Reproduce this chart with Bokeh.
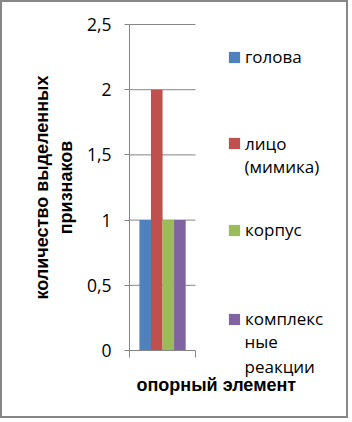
from bokeh.plotting import figure
from bokeh.models import (Range1d, FixedTicker, Legend, LegendItem, Label,
                          ColumnDataSource, LinearAxis)
from bokeh.transform import dodge
from bokeh.embed import file_html
from bokeh.resources import INLINE

# ---- data ----
categories = ["опорный элемент"]
golova = [1]
litso = [2]
korpus = [1]
kompleks = [1]
series_lines = [["голова"], ["лицо", "(мимика)"], ["корпус"], ["комплекс", "ные", "реакции"]]
y_ticks = [0, 0.5, 1, 1.5, 2, 2.5]
y_tick_labels = ["0", "0,5", "1", "1,5", "2", "2,5"]
y_title = "количество выделенных\nпризнаков"
x_title = "опорный элемент"

# ---- style / layout ----
colors = ["#4F81BD", "#C0504D", "#9BBB59", "#8064A2"]
grey = "#868686"
TICK_FONT = "Open Sans"
BOLD_FONT = "Liberation Sans"
W, H = 348, 418                       # canvas (plus 2px css border each side)
PL, PR, PT, PB = 127, 193, 22, 348    # plot area in canvas px
y_max = y_ticks[-1]
n = len(categories)
xpp = n / (PR - PL)
ypp = y_max / (PB - PT)
LBL_SHIFT = 6

def fx(page_x):
    return page_x - 2

def fy(page_y):
    return H - (page_y - 2)

source = ColumnDataSource(dict(
    x=[i + 0.5 for i in range(n)],
    golova=golova, litso=litso, korpus=korpus, kompleks=kompleks,
))

p = figure(width=W, height=H, output_backend="svg", toolbar_location=None,
           x_range=Range1d(-PL * xpp, n + (W - PR) * xpp),
           y_range=Range1d(-(H - PB) * ypp, y_max + PT * ypp),
           x_axis_location=None, y_axis_location=None,
           min_border_left=0, min_border_right=0, min_border_top=0,
           min_border_bottom=0)
p.styles = {"border": "2px solid #878787"}
p.outline_line_color = None
p.background_fill_color = "white"
p.xgrid.grid_line_color = None
p.ygrid.grid_line_color = None

# gridlines across the plot area only
grid_src = ColumnDataSource(dict(y=y_ticks[1:], x0=[0] * (len(y_ticks) - 1),
                                 x1=[n] * (len(y_ticks) - 1)))
p.segment(x0="x0", x1="x1", y0="y", y1="y", source=grid_src,
          line_color=grey, line_width=1)

offsets = [-0.262, -0.087, 0.088, 0.263]
bar_w = 0.176
fields = ["golova", "litso", "korpus", "kompleks"]
renderers = []
for f, off, c in zip(fields, offsets, colors):
    r = p.vbar(x=dodge("x", off), top=f, width=bar_w, bottom=0, source=source,
               fill_color=c, line_color=None)
    renderers.append(r)

# y axis
ya = LinearAxis(fixed_location=0, bounds=(0, y_max))
ya.ticker = FixedTicker(ticks=y_ticks)
ya.major_label_overrides = {t: l for t, l in zip(y_ticks, y_tick_labels)}
ya.axis_line_color = grey
ya.major_tick_line_color = grey
ya.major_tick_out = 5
ya.major_tick_in = 0
ya.minor_tick_line_color = None
ya.major_label_text_font = TICK_FONT
ya.major_label_text_font_size = "17.5px"
ya.major_label_text_color = "#000000"
ya.major_label_standoff = 13
ya.axis_label = y_title
ya.axis_label_text_font = BOLD_FONT
ya.axis_label_text_font_style = "bold"
ya.axis_label_text_font_size = "18px"
ya.axis_label_text_color = "#000000"
ya.axis_label_standoff = 8
p.add_layout(ya, "left")

# x axis (boundary ticks only, no labels)
x_ticks = [i for i in range(n + 1)]
xa = LinearAxis(fixed_location=0, bounds=(0, n))
xa.ticker = FixedTicker(ticks=x_ticks)
xa.major_label_overrides = {t: "" for t in x_ticks}
xa.major_label_standoff = 0
xa.axis_line_color = grey
xa.major_tick_line_color = grey
xa.major_tick_out = 7
xa.major_tick_in = 0
xa.minor_tick_line_color = None
p.add_layout(xa, "below")

# x title
p.add_layout(Label(x=fx(136), y=fy(390) + LBL_SHIFT, x_units="screen", y_units="screen",
                   text=x_title, text_font=BOLD_FONT, text_font_style="bold",
                   text_font_size="18px", text_color="#000000",
                   text_baseline="alphabetic"))

# legends: one per series (first line), remaining lines as labels
first_baselines = [60, 146.5, 233, 322]
line_step = 25
for r, lines, bl in zip(renderers, series_lines, first_baselines):
    lg = Legend(items=[LegendItem(label=lines[0], renderers=[r])],
                location=(fx(227), fy(bl + 8)), orientation="vertical",
                padding=0, margin=0, spacing=0, border_line_color=None,
                background_fill_alpha=0, glyph_width=14, glyph_height=14,
                label_height=14, label_standoff=4,
                label_text_font=TICK_FONT, label_text_font_size="17px",
                label_text_color="#000000")
    p.add_layout(lg, "center")
    for k, extra in enumerate(lines[1:], start=1):
        p.add_layout(Label(x=fx(244), y=fy(bl + line_step * k) + LBL_SHIFT,
                           x_units="screen", y_units="screen", text=extra,
                           text_font=TICK_FONT, text_font_size="17px",
                           text_color="#000000", text_baseline="alphabetic"))

open("out.html", "w").write(file_html(p, INLINE))
